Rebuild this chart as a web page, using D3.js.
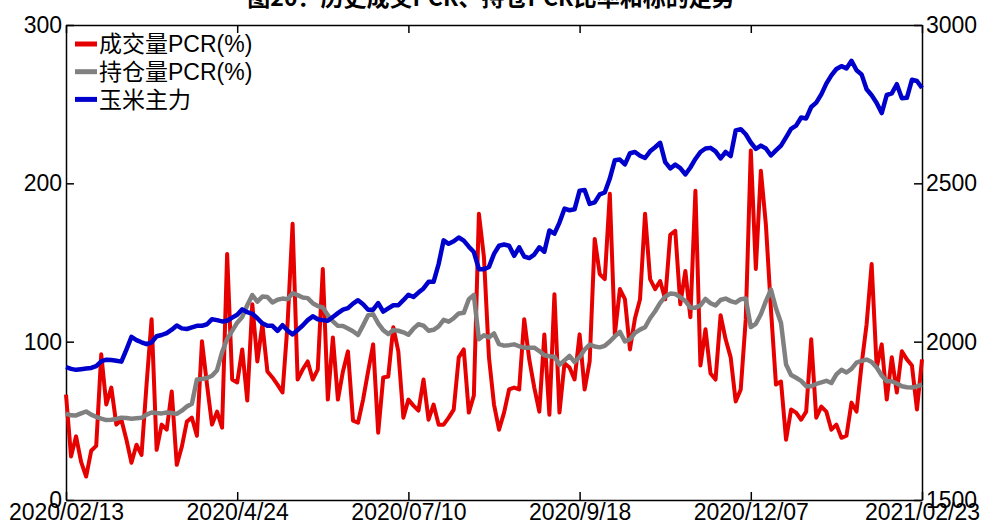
<!DOCTYPE html>
<html>
<head>
<meta charset="utf-8">
<script src="https://cdn.jsdelivr.net/npm/d3@7"></script>
<style>
body { margin: 0; background: #fff; }
text { font-family: "Liberation Sans", Arial, "Noto Sans CJK SC", sans-serif; }
</style>
</head>
<body>
<svg id="chart" width="982" height="527"></svg>
<script>

//tick labels of the x axis and the trading-day index where each one sits
var tickLabels = ["2020/02/13", "2020/4/24", "2020/07/10", "2020/9/18", "2020/12/07", "2021/02/23"]
var tickIndex = [0, 34, 68, 102, 136, 170]

var seriesNames = ["成交量PCR(%)", "持仓量PCR(%)", "玉米主力"]

//成交量PCR (left axis)
var volPCR = [66.6, 27.5, 40.2, 24.1, 14.8, 31.1, 34.2, 92.0, 60.3, 71.0, 47.6, 50.7, 38.1, 23.5, 34.9, 28.5, 73.0, 114.2, 31.7, 47.6,
  44.4, 68.5, 22.2, 33.6, 49.5, 52.0, 40.6, 100.2, 72.9, 47.6, 55.8, 45.7, 155.4, 76.1, 74.2, 95.1, 62.8, 123.7, 87.5, 111.0,
  81.2, 77.4, 72.9, 67.9, 111.0, 174.4, 76.1, 82.4, 87.5, 76.1, 82.4, 145.9, 63.4, 102.7, 63.4, 81.2, 93.9, 50.1, 48.8, 63.4,
  81.2, 98.3, 42.5, 77.4, 78.0, 109.1, 93.9, 52.0, 63.4, 59.6, 56.4, 76.1, 50.7, 60.3, 47.6, 47.6, 52.0, 57.1, 90.1, 95.1,
  55.2, 66.0, 180.8, 153.5, 90.1, 60.3, 44.4, 55.2, 69.8, 71.0, 69.8, 114.2, 88.8, 71.0, 55.8, 104.6, 53.9, 130.0, 55.2, 86.3,
  83.7, 76.1, 104.6, 69.8, 87.5, 164.9, 142.7, 139.5, 193.4, 104.6, 133.2, 126.8, 95.1, 114.8, 126.8, 180.8, 139.5, 133.2, 138.3, 126.8,
  167.5, 170.0, 123.7, 144.6, 115.4, 195.3, 85.0, 107.8, 79.9, 76.1, 116.7, 101.5, 90.1, 62.2, 69.8, 114.2, 220.7, 145.9, 208.0, 173.8,
  120.5, 72.9, 74.8, 38.1, 57.1, 55.2, 50.7, 55.8, 101.5, 52.0, 59.0, 55.8, 44.4, 47.6, 39.3, 40.6, 61.5, 55.8, 85.6, 111.0,
  149.0, 83.7, 98.3, 63.4, 90.1, 67.9, 93.9, 88.8, 85.0, 57.1, 88.8]

//持仓量PCR (left axis)
var oiPCR = [54.5, 53.5, 53.4, 54.7, 55.9, 53.9, 52.5, 51.4, 50.5, 50.7, 51.2, 52.0, 51.8, 51.3, 51.6, 51.9, 53.9, 55.3, 54.9, 54.7,
  55.3, 54.9, 54.4, 56.4, 59.0, 60.8, 76.1, 76.4, 77.0, 78.5, 82.0, 93.4, 101.7, 106.8, 112.0, 115.6, 123.0, 129.4, 125.3, 128.5,
  128.2, 124.8, 126.5, 127.2, 126.8, 130.6, 129.4, 127.9, 127.5, 124.3, 122.5, 121.6, 116.7, 112.8, 110.0, 109.9, 108.3, 106.6, 104.2, 110.3,
  116.7, 117.3, 111.6, 107.3, 104.8, 107.3, 106.9, 105.9, 104.4, 108.2, 111.0, 110.1, 106.9, 107.5, 109.7, 113.8, 112.6, 114.8, 117.8, 118.2,
  126.8, 129.5, 101.5, 104.0, 102.7, 105.2, 98.4, 97.5, 97.8, 98.3, 97.1, 96.2, 96.2, 96.2, 94.1, 91.4, 90.8, 90.5, 85.4, 88.2,
  91.0, 87.2, 90.2, 95.0, 98.1, 97.0, 96.4, 97.4, 100.1, 103.3, 106.2, 100.1, 101.5, 105.5, 107.6, 109.1, 114.8, 119.2, 124.5, 128.4,
  130.4, 130.1, 128.1, 125.7, 121.5, 121.5, 122.9, 127.0, 124.3, 122.9, 126.3, 127.2, 125.6, 124.7, 126.8, 127.2, 109.2, 111.3, 117.3, 125.6,
  132.9, 121.1, 111.8, 85.6, 79.0, 77.2, 75.2, 71.9, 71.9, 73.3, 74.3, 75.3, 73.9, 79.3, 82.2, 80.5, 82.8, 86.8, 87.9, 88.7,
  87.2, 83.7, 78.6, 75.0, 75.0, 73.6, 71.8, 71.2, 71.0, 71.8, 72.9]

//玉米主力 (right axis)
var corn = [1920, 1914, 1911, 1913, 1915, 1917, 1923, 1938, 1943, 1942, 1940, 1937, 1975, 2015, 2005, 1998, 1992, 1998, 2017, 2021,
  2027, 2038, 2051, 2042, 2040, 2045, 2050, 2050, 2055, 2071, 2068, 2064, 2066, 2076, 2085, 2102, 2093, 2088, 2074, 2058,
  2050, 2050, 2034, 2052, 2035, 2023, 2037, 2051, 2068, 2080, 2071, 2068, 2066, 2078, 2090, 2101, 2106, 2120, 2131, 2118,
  2101, 2101, 2122, 2095, 2105, 2115, 2115, 2131, 2148, 2141, 2155, 2168, 2189, 2189, 2245, 2320, 2309, 2317, 2329, 2319,
  2300, 2283, 2229, 2229, 2236, 2277, 2303, 2307, 2303, 2271, 2298, 2269, 2264, 2275, 2298, 2284, 2351, 2341, 2376, 2420,
  2415, 2418, 2477, 2479, 2435, 2440, 2465, 2471, 2515, 2573, 2575, 2560, 2595, 2599, 2587, 2580, 2601, 2614, 2628, 2567,
  2547, 2559, 2548, 2528, 2550, 2577, 2599, 2610, 2612, 2601, 2579, 2599, 2586, 2667, 2671, 2655, 2629, 2609, 2619, 2610,
  2588, 2604, 2619, 2645, 2672, 2682, 2708, 2705, 2741, 2755, 2781, 2815, 2841, 2861, 2870, 2863, 2887, 2857, 2844, 2797,
  2778, 2754, 2722, 2779, 2784, 2813, 2769, 2770, 2827, 2823, 2801]

var leftTicks = [0, 100, 200, 300]
var rightTicks = [1500, 2000, 2500, 3000]

//plot box
var margin = {left: 66, right: 922, top: 25, bottom: 500}

var svg = d3.select("#chart")

var x = d3.scaleLinear().domain([0, volPCR.length - 1]).range([margin.left, margin.right])
var yL = d3.scaleLinear().domain([0, 300]).range([margin.bottom, margin.top])
var yR = d3.scaleLinear().domain([1500, 3000]).range([margin.bottom, margin.top])

//title, cut by the top edge like in the picture
svg.append("text")
  .attr("x", 491)
  .attr("y", 6)
  .attr("text-anchor", "middle")
  .style("font-family", "'Noto Sans CJK SC', sans-serif")
  .style("font-weight", "bold")
  .style("font-size", "23px")
  .text("图20：历史成交PCR、持仓PCR比率和标的走势")

//axes, ticks pointing inwards
var xAxis = d3.axisBottom(x).tickValues(tickIndex)
  .tickFormat(function(d, i) { return tickLabels[i] })
  .tickSize(-8).tickSizeOuter(0).tickPadding(4)
var xTop = d3.axisTop(x).tickValues(tickIndex).tickFormat("")
  .tickSize(-8).tickSizeOuter(0)
var yAxisL = d3.axisLeft(yL).tickValues(leftTicks).tickFormat(d3.format("d"))
  .tickSize(-8).tickSizeOuter(0).tickPadding(4)
var yAxisR = d3.axisRight(yR).tickValues(rightTicks).tickFormat(d3.format("d"))
  .tickSize(-8).tickSizeOuter(0).tickPadding(4)

svg.append("g").attr("class", "axis").attr("transform", "translate(0," + margin.bottom + ")").call(xAxis)
svg.append("g").attr("class", "axis").attr("transform", "translate(0," + margin.top + ")").call(xTop)
svg.append("g").attr("class", "axis").attr("transform", "translate(" + margin.left + ",0)").call(yAxisL)
svg.append("g").attr("class", "axis").attr("transform", "translate(" + margin.right + ",0)").call(yAxisR)

svg.selectAll(".axis text")
  .style("font-family", "'Liberation Sans', Arial, sans-serif")
  .style("font-size", "23px")
  .attr("fill", "#000")
svg.selectAll(".axis line").attr("stroke", "#000").attr("stroke-width", 1.5)
svg.selectAll(".axis path").attr("stroke", "#000").attr("stroke-width", 1.5)

//lines
var lineL = d3.line().x(function(d, i) { return x(i) }).y(function(d) { return yL(d) })
var lineR = d3.line().x(function(d, i) { return x(i) }).y(function(d) { return yR(d) })

var series = [
  {data: volPCR, line: lineL, color: "#e60000", w: 4},
  {data: oiPCR, line: lineL, color: "#808080", w: 4.5},
  {data: corn, line: lineR, color: "#0000cc", w: 4.5}
]

series.forEach(function(s) {
  svg.append("path")
    .datum(s.data)
    .attr("d", s.line)
    .attr("fill", "none")
    .attr("stroke", s.color)
    .attr("stroke-width", s.w)
    .attr("stroke-linejoin", "round")
})

//legend
var legend = svg.append("g").attr("class", "legend")
seriesNames.forEach(function(name, i) {
  var yy = 44 + i * 27.7
  legend.append("line")
    .attr("x1", 75).attr("x2", 97)
    .attr("y1", yy).attr("y2", yy)
    .attr("stroke", series[i].color)
    .attr("stroke-width", 5)
  legend.append("text")
    .attr("x", 99).attr("y", yy)
    .attr("dy", "0.36em")
    .style("font-size", "23px")
    .text(name)
})

</script>
</body>
</html>
